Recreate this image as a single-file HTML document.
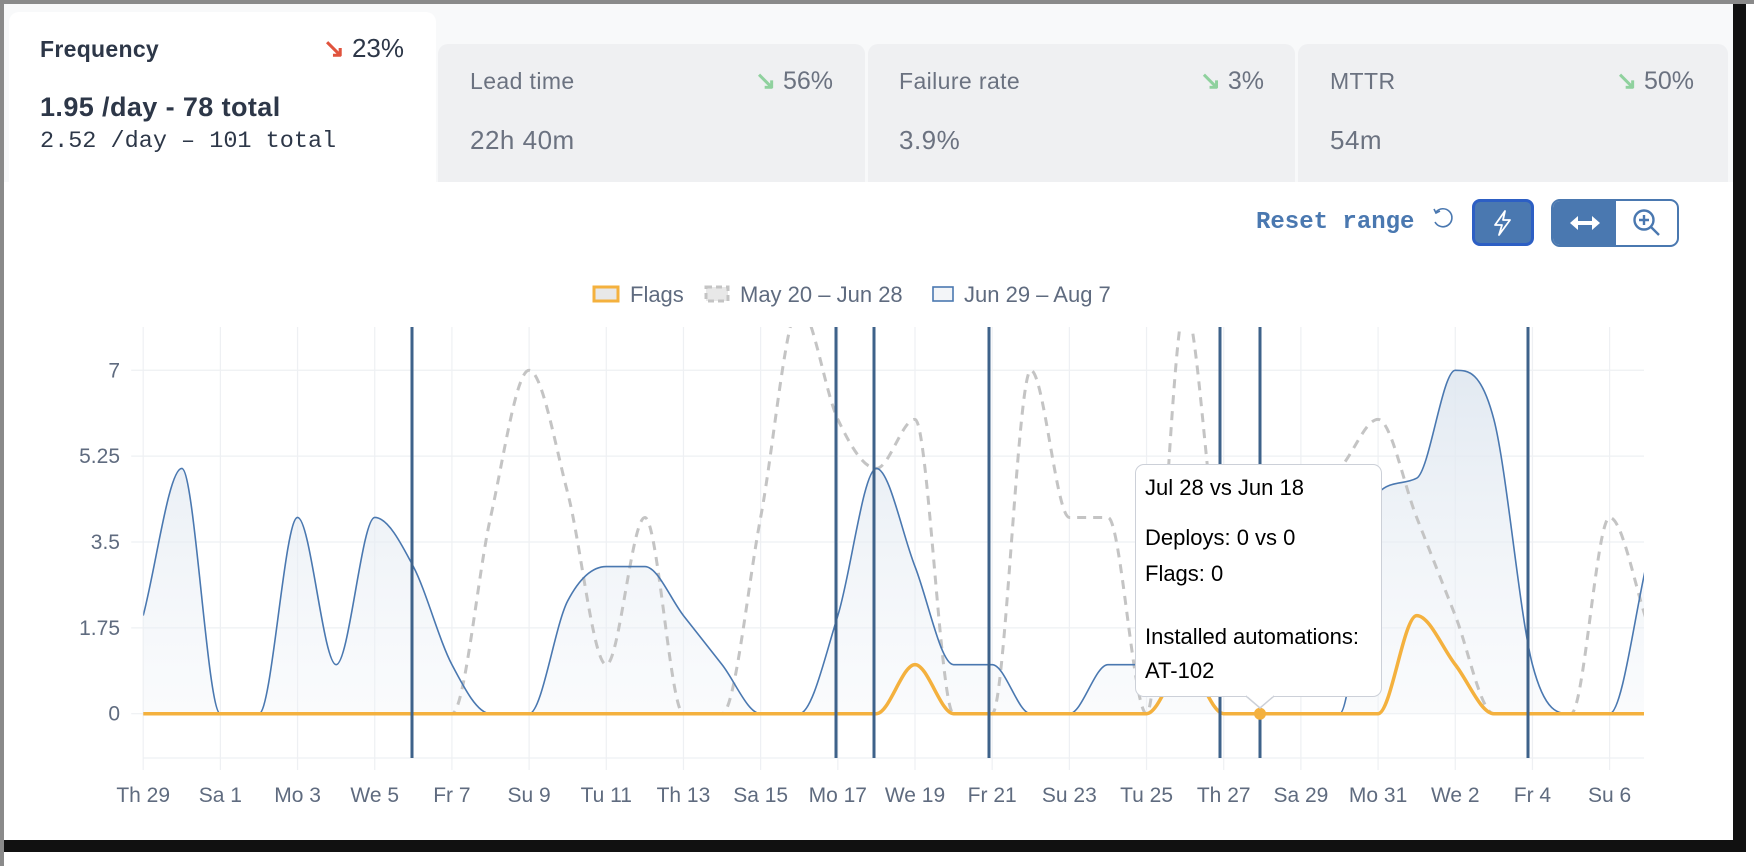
<!DOCTYPE html>
<html><head><meta charset="utf-8"><style>
body{margin:0;width:1754px;height:866px;background:#fff;position:relative;overflow:hidden;font-family:"Liberation Sans",sans-serif}
.abs{position:absolute}
.card{position:absolute;background:#eff0f2;border-radius:10px}
.lbl{position:absolute;font-size:23px;color:#6b7280;letter-spacing:0.4px}
.val{position:absolute;font-size:26px;color:#6b7280;letter-spacing:0.5px}
.pct{position:absolute;font-size:25px;color:#6b7280;text-align:right}
.tt{position:absolute;left:1145px;font-size:22px;color:#000;line-height:1}
</style></head><body>
<div class="abs" style="left:0;top:0;width:1754px;height:4px;background:#8a8a8a"></div>
<div class="abs" style="left:0;top:0;width:4px;height:866px;background:#8a8a8a"></div>
<div class="abs" style="left:4px;top:4px;width:1729px;height:178px;background:#f8f9fa"></div>
<div class="abs" style="left:1733px;top:4px;width:13px;height:848px;background:#111"></div>
<div class="abs" style="left:4px;top:840px;width:1742px;height:12px;background:#111"></div>
<div class="card" style="left:9px;top:12px;width:427px;height:180px;background:#fff"></div>
<div class="card" style="left:438px;top:44px;width:427px;height:150px"></div>
<div class="card" style="left:868px;top:44px;width:427px;height:150px"></div>
<div class="card" style="left:1298px;top:44px;width:430px;height:150px"></div>
<div class="abs" style="left:4px;top:182px;width:1729px;height:658px;background:#fff"></div>

<div class="abs" style="left:40px;top:36px;font-size:23px;font-weight:bold;color:#2d3748;letter-spacing:0.3px">Frequency</div>
<div class="abs" style="left:300px;top:33px;width:104px;text-align:right;font-size:26px;color:#2d3748"><span style="color:#e0533d;font-weight:bold">↘</span> 23%</div>
<div class="abs" style="left:40px;top:92px;font-size:27px;font-weight:bold;color:#2d3748;letter-spacing:0.4px">1.95 /day - 78 total</div>
<div class="abs" style="left:40px;top:128px;font-size:23.5px;font-family:'Liberation Mono',monospace;color:#2d3748">2.52 /day – 101 total</div>

<div class="lbl" style="left:470px;top:68px">Lead time</div>
<div class="pct" style="left:700px;top:66px;width:133px"><span style="color:#8fd19e;font-weight:bold">↘</span> 56%</div>
<div class="val" style="left:470px;top:125px">22h 40m</div>
<div class="lbl" style="left:899px;top:68px">Failure rate</div>
<div class="pct" style="left:1130px;top:66px;width:134px"><span style="color:#8fd19e;font-weight:bold">↘</span> 3%</div>
<div class="val" style="left:899px;top:125px">3.9%</div>
<div class="lbl" style="left:1330px;top:68px">MTTR</div>
<div class="pct" style="left:1560px;top:66px;width:134px"><span style="color:#8fd19e;font-weight:bold">↘</span> 50%</div>
<div class="val" style="left:1330px;top:125px">54m</div>

<div class="abs" style="left:1256px;top:209px;font-size:24px;font-weight:bold;font-family:'Liberation Mono',monospace;color:#4a78b0">Reset range</div>
<svg class="abs" style="left:1430px;top:206px" width="26" height="26" viewBox="0 0 26 26"><path d="M6 6 A9 9 0 1 1 5 16" fill="none" stroke="#4a78b0" stroke-width="1.6"/><path d="M4 3 L6 7 L10 5" fill="none" stroke="#4a78b0" stroke-width="1.6"/></svg>
<div class="abs" style="left:1472px;top:199px;width:56px;height:41px;border:3px solid #2d5fc4;border-radius:8px;background:#4a78b0"></div>
<svg class="abs" style="left:1488px;top:208px" width="30" height="30" viewBox="0 0 30 30"><path d="M17 3 L7 17 L14 17 L11 27 L22 12 L15 12 Z" fill="none" stroke="#fff" stroke-width="1.8" stroke-linejoin="round"/></svg>
<div class="abs" style="left:1551px;top:199px;width:124px;height:44px;border:2px solid #4a78b0;border-radius:9px;background:#fff;overflow:hidden"><div style="width:63px;height:44px;background:#4a78b0"></div></div>
<svg class="abs" style="left:1568px;top:208px" width="34" height="30" viewBox="0 0 34 30"><path d="M5 15 H29" stroke="#fff" stroke-width="4"/><path d="M2 15 L10 8 L10 22 Z M32 15 L24 8 L24 22 Z" fill="#fff"/></svg>
<svg class="abs" style="left:1630px;top:206px" width="34" height="34" viewBox="0 0 34 34"><circle cx="14" cy="14" r="9.5" fill="none" stroke="#4a78b0" stroke-width="2.4"/><path d="M21 21 L29 29 M14 9 V19 M9 14 H19" stroke="#4a78b0" stroke-width="2.4"/></svg>

<svg id="ch" class="abs" style="left:0;top:0" width="1754" height="866"></svg>

<div class="abs" style="left:1135px;top:464px;width:247px;height:233px;background:#fff;border:1.5px solid #ccd0d8;border-radius:9px;box-sizing:border-box"></div>
<svg class="abs" style="left:1245px;top:694px" width="30" height="16"><path d="M1 2 L15 14 L29 2" fill="#fff" stroke="#ccd0d8" stroke-width="1.5"/><rect x="2" y="0" width="26" height="2.5" fill="#fff"/></svg>
<div class="tt" style="top:477px">Jul 28 vs Jun 18</div>
<div class="tt" style="top:527px">Deploys: 0 vs 0</div>
<div class="tt" style="top:563px">Flags: 0</div>
<div class="tt" style="top:626px">Installed automations:</div>
<div class="tt" style="top:660px">AT-102</div>

<script>
var NS="http://www.w3.org/2000/svg",svg=document.getElementById('ch');
function el(t,a,p){var e=document.createElementNS(NS,t);for(var k in a)e.setAttribute(k,a[k]);(p||svg).appendChild(e);return e;}
var X0=143.2,DX=38.59,Y0=713.7,DY=49.06,TOP=327,BOT=758,R=1644;
function X(d){return X0+DX*d} function Y(v){return Y0-DY*v}
var defs=el('defs',{});
var cp=el('clipPath',{id:'cp'},defs);el('rect',{x:X0,y:TOP,width:R-X0,height:BOT-TOP},cp);
var g=el('linearGradient',{id:'gr',x1:0,y1:0,x2:0,y2:1},defs);
el('stop',{offset:'0','stop-color':'#dfe7f0','stop-opacity':'0.9'},g);el('stop',{offset:'1','stop-color':'#eef2f7','stop-opacity':'0.3'},g);
var F='Liberation Sans,sans-serif';
var days=["Th 29","Sa 1","Mo 3","We 5","Fr 7","Su 9","Tu 11","Th 13","Sa 15","Mo 17","We 19","Fr 21","Su 23","Tu 25","Th 27","Sa 29","Mo 31","We 2","Fr 4","Su 6"];
for(var i=0;i<days.length;i++){var x=X(i*2);el('line',{x1:x,x2:x,y1:TOP,y2:BOT+12,stroke:'#eef0f3','stroke-width':1.2});
var t=el('text',{x:x,y:802,'text-anchor':'middle','font-size':21,fill:'#5f6b7f','font-family':F});t.textContent=days[i];}
[[0,'0'],[1.75,'1.75'],[3.5,'3.5'],[5.25,'5.25'],[7,'7']].forEach(function(a){var y=Y(a[0]);el('line',{x1:X0-12,x2:R,y1:y,y2:y,stroke:'#eef0f3','stroke-width':1.2});
var t=el('text',{x:120,y:y+7,'text-anchor':'end','font-size':21,fill:'#5f6b7f','font-family':F});t.textContent=a[1];});
el('line',{x1:X0,x2:R,y1:BOT,y2:BOT,stroke:'#eef0f3','stroke-width':1.2});
function mono(vals){var n=vals.length,xs=[],ys=[];for(var i=0;i<n;i++){xs.push(X(i));ys.push(Y(vals[i]));}
var d=[],m=[];for(i=0;i<n-1;i++)d.push((ys[i+1]-ys[i])/(xs[i+1]-xs[i]));
for(i=0;i<n;i++){if(i==0)m.push(d[0]);else if(i==n-1)m.push(d[n-2]);else if(d[i-1]*d[i]<=0)m.push(0);else m.push((d[i-1]+d[i])/2);}
for(i=0;i<n-1;i++){if(d[i]==0){m[i]=0;m[i+1]=0;continue;}var a=m[i]/d[i],b=m[i+1]/d[i],s=a*a+b*b;if(s>9){var tt=3/Math.sqrt(s);m[i]=tt*a*d[i];m[i+1]=tt*b*d[i];}}
var p='M'+xs[0]+' '+ys[0];for(i=0;i<n-1;i++){var h=(xs[i+1]-xs[i])/3;p+=' C'+(xs[i]+h)+' '+(ys[i]+m[i]*h)+' '+(xs[i+1]-h)+' '+(ys[i+1]-m[i+1]*h)+' '+xs[i+1]+' '+ys[i+1];}return p;}
var blue=[2,5,0,0,4,1,4,3,1,0,0,2.3,3,3,2,1,0,0,2,5,3,1,1,0,0,1,1,1,0,0,0,0,4.5,4.8,7,6,1,0,0,3.2];
var grey=[0,0,0,0,0,0,0,0,0,4,7,4.5,1,4,0,0,4,8.3,6,5,6,0,0,7,4,4,0,8.3,3,4,4.5,5,6,4,2,0,0,0,4,1.8];
var flag=[0,0,0,0,0,0,0,0,0,0,0,0,0,0,0,0,0,0,0,0,1,0,0,0,0,0,0,1,0,0,0,0,0,2,1,0,0,0,0,0];
var gg=el('g',{'clip-path':'url(#cp)'});
var bp=mono(blue);
el('path',{d:bp+' L'+X(39)+' '+Y(0)+' L'+X(0)+' '+Y(0)+' Z',fill:'url(#gr)'},gg);
el('path',{d:mono(grey),fill:'none',stroke:'#c4c4c4','stroke-width':3,'stroke-dasharray':'9 7'},gg);
el('path',{d:bp,fill:'none',stroke:'#4a78b0','stroke-width':1.6},gg);
el('path',{d:mono(flag),fill:'none',stroke:'#f4b13e','stroke-width':3.5},gg);
[412,836,874,989,1220,1260,1528].forEach(function(x){el('line',{x1:x,x2:x,y1:TOP,y2:BOT,stroke:'#3e628a','stroke-width':3});});
el('circle',{cx:1260,cy:Y(0),r:6,fill:'#f4b13e'});
el('rect',{x:594,y:287,width:24,height:14,fill:'#e8e8e8',stroke:'#f4b13e','stroke-width':3});
var t=el('text',{x:630,y:302,'font-size':22,fill:'#5f6b7f','font-family':F});t.textContent='Flags';
el('rect',{x:706,y:287,width:22,height:14,fill:'#e8e8e8',stroke:'#c4c4c4','stroke-width':3,'stroke-dasharray':'6 4'});
t=el('text',{x:740,y:302,'font-size':22,fill:'#5f6b7f','font-family':F});t.textContent='May 20 – Jun 28';
el('rect',{x:933,y:287,width:20,height:14,fill:'#f3f5f8',stroke:'#4a78b0','stroke-width':1.6});
t=el('text',{x:964,y:302,'font-size':22,fill:'#5f6b7f','font-family':F});t.textContent='Jun 29 – Aug 7';
</script>
</body></html>
